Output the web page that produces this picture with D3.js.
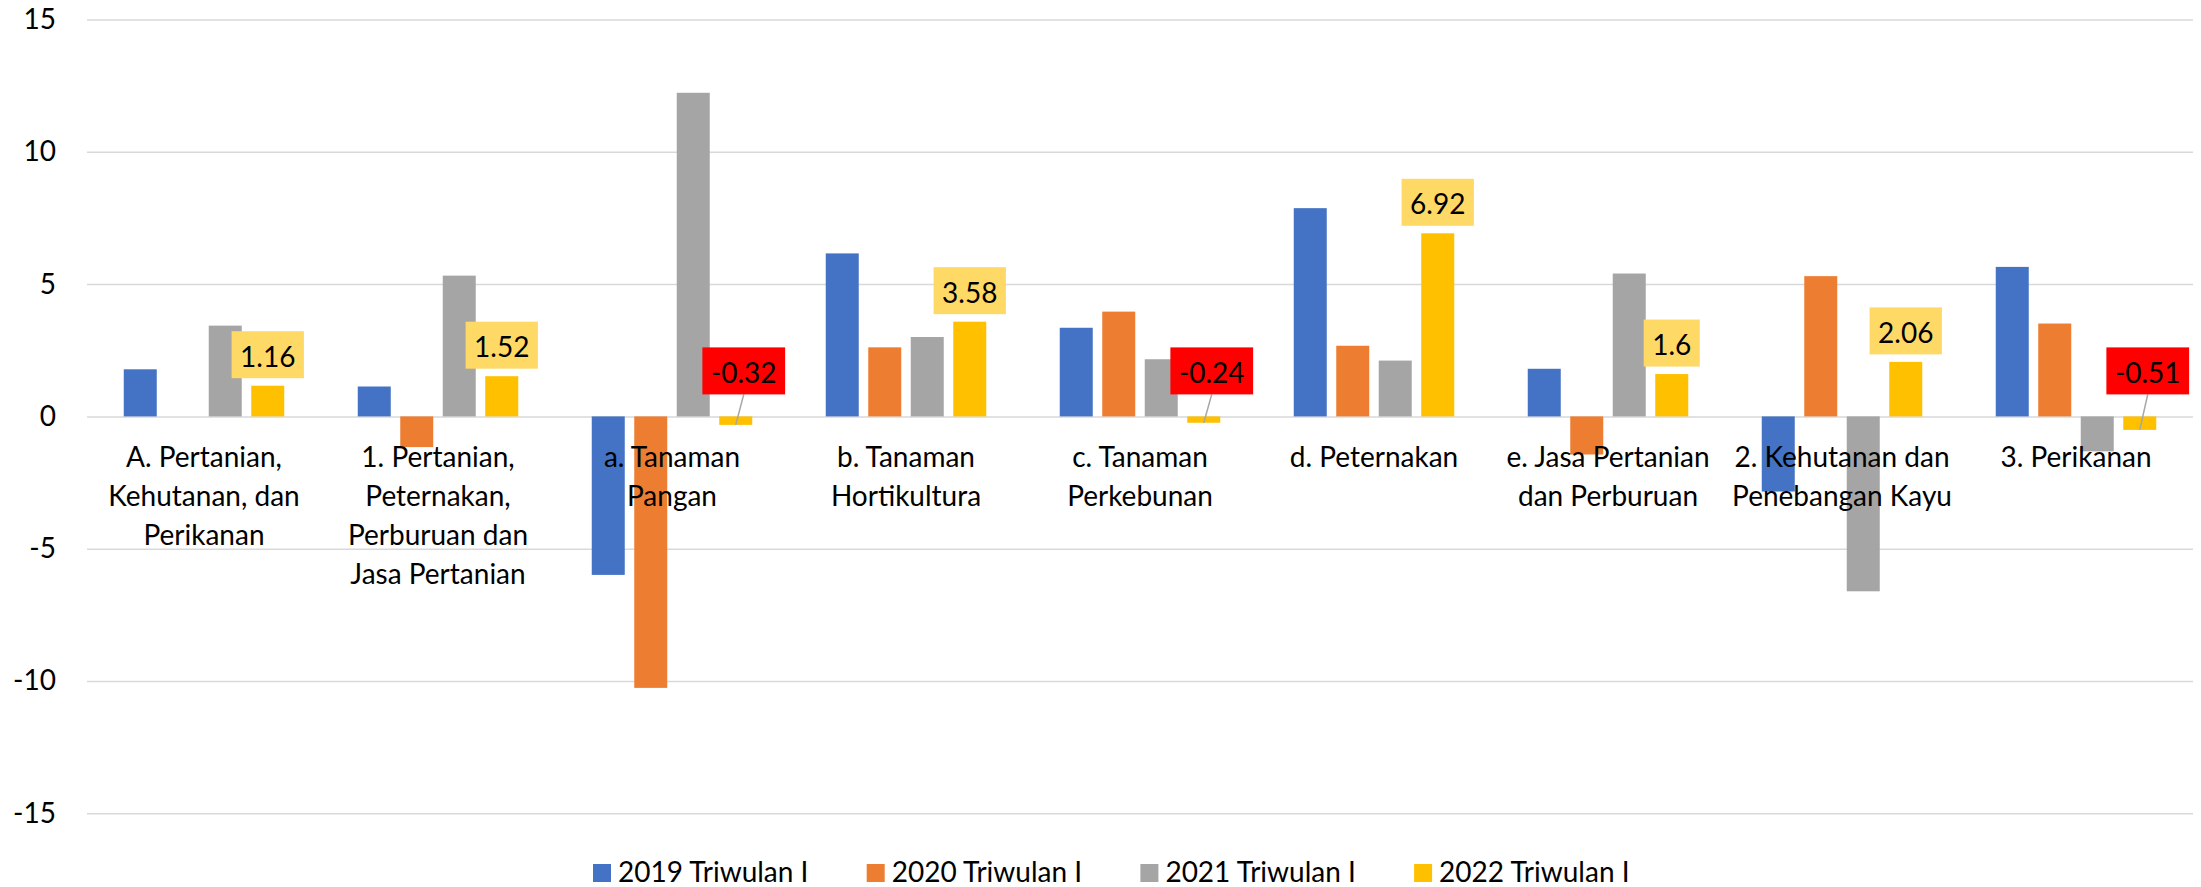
<!DOCTYPE html>
<html>
<head>
<meta charset="utf-8">
<script src="https://cdn.jsdelivr.net/npm/d3@7"></script>
<style>
  html, body { margin: 0; padding: 0; background: #fff; }
  svg { display: block; }
  text { font-family: Lato, "Open Sans", sans-serif; fill: #000; }
</style>
</head>
<body>
<svg id="chart" width="2201" height="887"></svg>
<script>
const categories = [
  "A. Pertanian,\nKehutanan, dan\nPerikanan",
  "1. Pertanian,\nPeternakan,\nPerburuan dan\nJasa Pertanian",
  "a. Tanaman\nPangan",
  "b. Tanaman\nHortikultura",
  "c. Tanaman\nPerkebunan",
  "d. Peternakan",
  "e. Jasa Pertanian\ndan Perburuan",
  "2. Kehutanan dan\nPenebangan Kayu",
  "3. Perikanan"
];
const seriesNames = ["2019 Triwulan I", "2020 Triwulan I", "2021 Triwulan I", "2022 Triwulan I"];
const seriesColors = ["#4472C4", "#ED7D31", "#A5A5A5", "#FFC000"];
const v2019 = [1.78, 1.13, -5.99, 6.16, 3.35, 7.87, 1.80, -2.84, 5.65];
const v2020 = [0, -1.16, -10.26, 2.61, 3.96, 2.67, -1.44, 5.30, 3.51];
const v2021 = [3.43, 5.32, 12.23, 3.00, 2.16, 2.11, 5.40, -6.61, -1.32];
const v2022 = [1.16, 1.52, -0.32, 3.58, -0.24, 6.92, 1.6, 2.06, -0.51];
const yTicks = [-15, -10, -5, 0, 5, 10, 15];

const seriesValues = [v2019, v2020, v2021, v2022];
const FS = 28;

const svg = d3.select("#chart");
const x = d3.scaleBand().domain(categories).range([87, 2193]).paddingInner(0).paddingOuter(0);
const groupPad = (x.bandwidth() - 160.5) / 2;
const xs = d3.scaleBand().domain(seriesNames).range([groupPad, x.bandwidth() - groupPad]).paddingInner(0.2235).paddingOuter(0);
const y = d3.scaleLinear().domain([-15, 15]).range([813.3, 19.5]);

// gridlines + y tick labels
const yAxis = d3.axisLeft(y).tickValues(yTicks).tickSize(-(2193 - 87)).tickPadding(31).tickFormat(d => String(d));
const gAxis = svg.append("g").attr("transform", "translate(87,0)").call(yAxis);
gAxis.select(".domain").remove();
gAxis.selectAll(".tick line").attr("stroke", "#D9D9D9").attr("stroke-width", 1.5);
gAxis.selectAll(".tick text").attr("font-size", FS).attr("font-family", "Lato").attr("fill", "#000");

// bars
const data = [];
categories.forEach((c, i) => seriesNames.forEach((s, j) => data.push({c, s, j, v: seriesValues[j][i]})));
svg.append("g").selectAll("rect").data(data).join("rect")
  .attr("x", d => x(d.c) + xs(d.s))
  .attr("width", xs.bandwidth())
  .attr("y", d => y(Math.max(0, d.v)))
  .attr("height", d => Math.abs(y(d.v) - y(0)))
  .attr("fill", d => seriesColors[d.j]);

// data labels for 2022
const lblG = svg.append("g");
const lblData = categories.map((c, i) => ({c, v: v2022[i]}));
lblData.forEach(d => {
  const cx = x(d.c) + xs(seriesNames[3]) + xs.bandwidth() / 2;
  const g = lblG.append("g");
  const t = g.append("text").text(String(d.v)).attr("font-size", FS).attr("text-anchor", "middle").attr("dominant-baseline", "central");
  const w = t.node().getComputedTextLength() + 17;
  const h = 47;
  let bx, by;
  if (d.v >= 0) {
    bx = cx; by = y(d.v) - 7.5 - h / 2;
  } else {
    bx = cx + 8; by = y(0) - 22 - h / 2;
    g.insert("line", "text").attr("x1", bx).attr("y1", by + h / 2).attr("x2", cx).attr("y2", y(d.v))
      .attr("stroke", "#A6A6A6").attr("stroke-width", 1.5);
  }
  g.insert("rect", "text").attr("x", bx - w / 2).attr("y", by - h / 2).attr("width", w).attr("height", h)
    .attr("fill", d.v >= 0 ? "#FFD966" : "#FF0000");
  t.attr("x", bx).attr("y", by + 1);
});

// category labels
const catG = svg.append("g");
categories.forEach(c => {
  const lines = c.split("\n");
  const t = catG.append("text").attr("font-size", FS).attr("text-anchor", "middle")
    .attr("x", x(c) + x.bandwidth() / 2).attr("y", 466.7);
  lines.forEach((ln, k) => t.append("tspan").attr("x", x(c) + x.bandwidth() / 2).attr("dy", k === 0 ? 0 : 39).text(ln));
});

// legend
const leg = svg.append("g");
seriesNames.forEach((s, i) => {
  const lx = 593 + i * 273.7;
  leg.append("rect").attr("x", lx).attr("y", 864).attr("width", 18).attr("height", 18).attr("fill", seriesColors[i]);
  leg.append("text").attr("x", lx + 25).attr("y", 882).attr("font-size", FS).text(s);
});
</script>
</body>
</html>
